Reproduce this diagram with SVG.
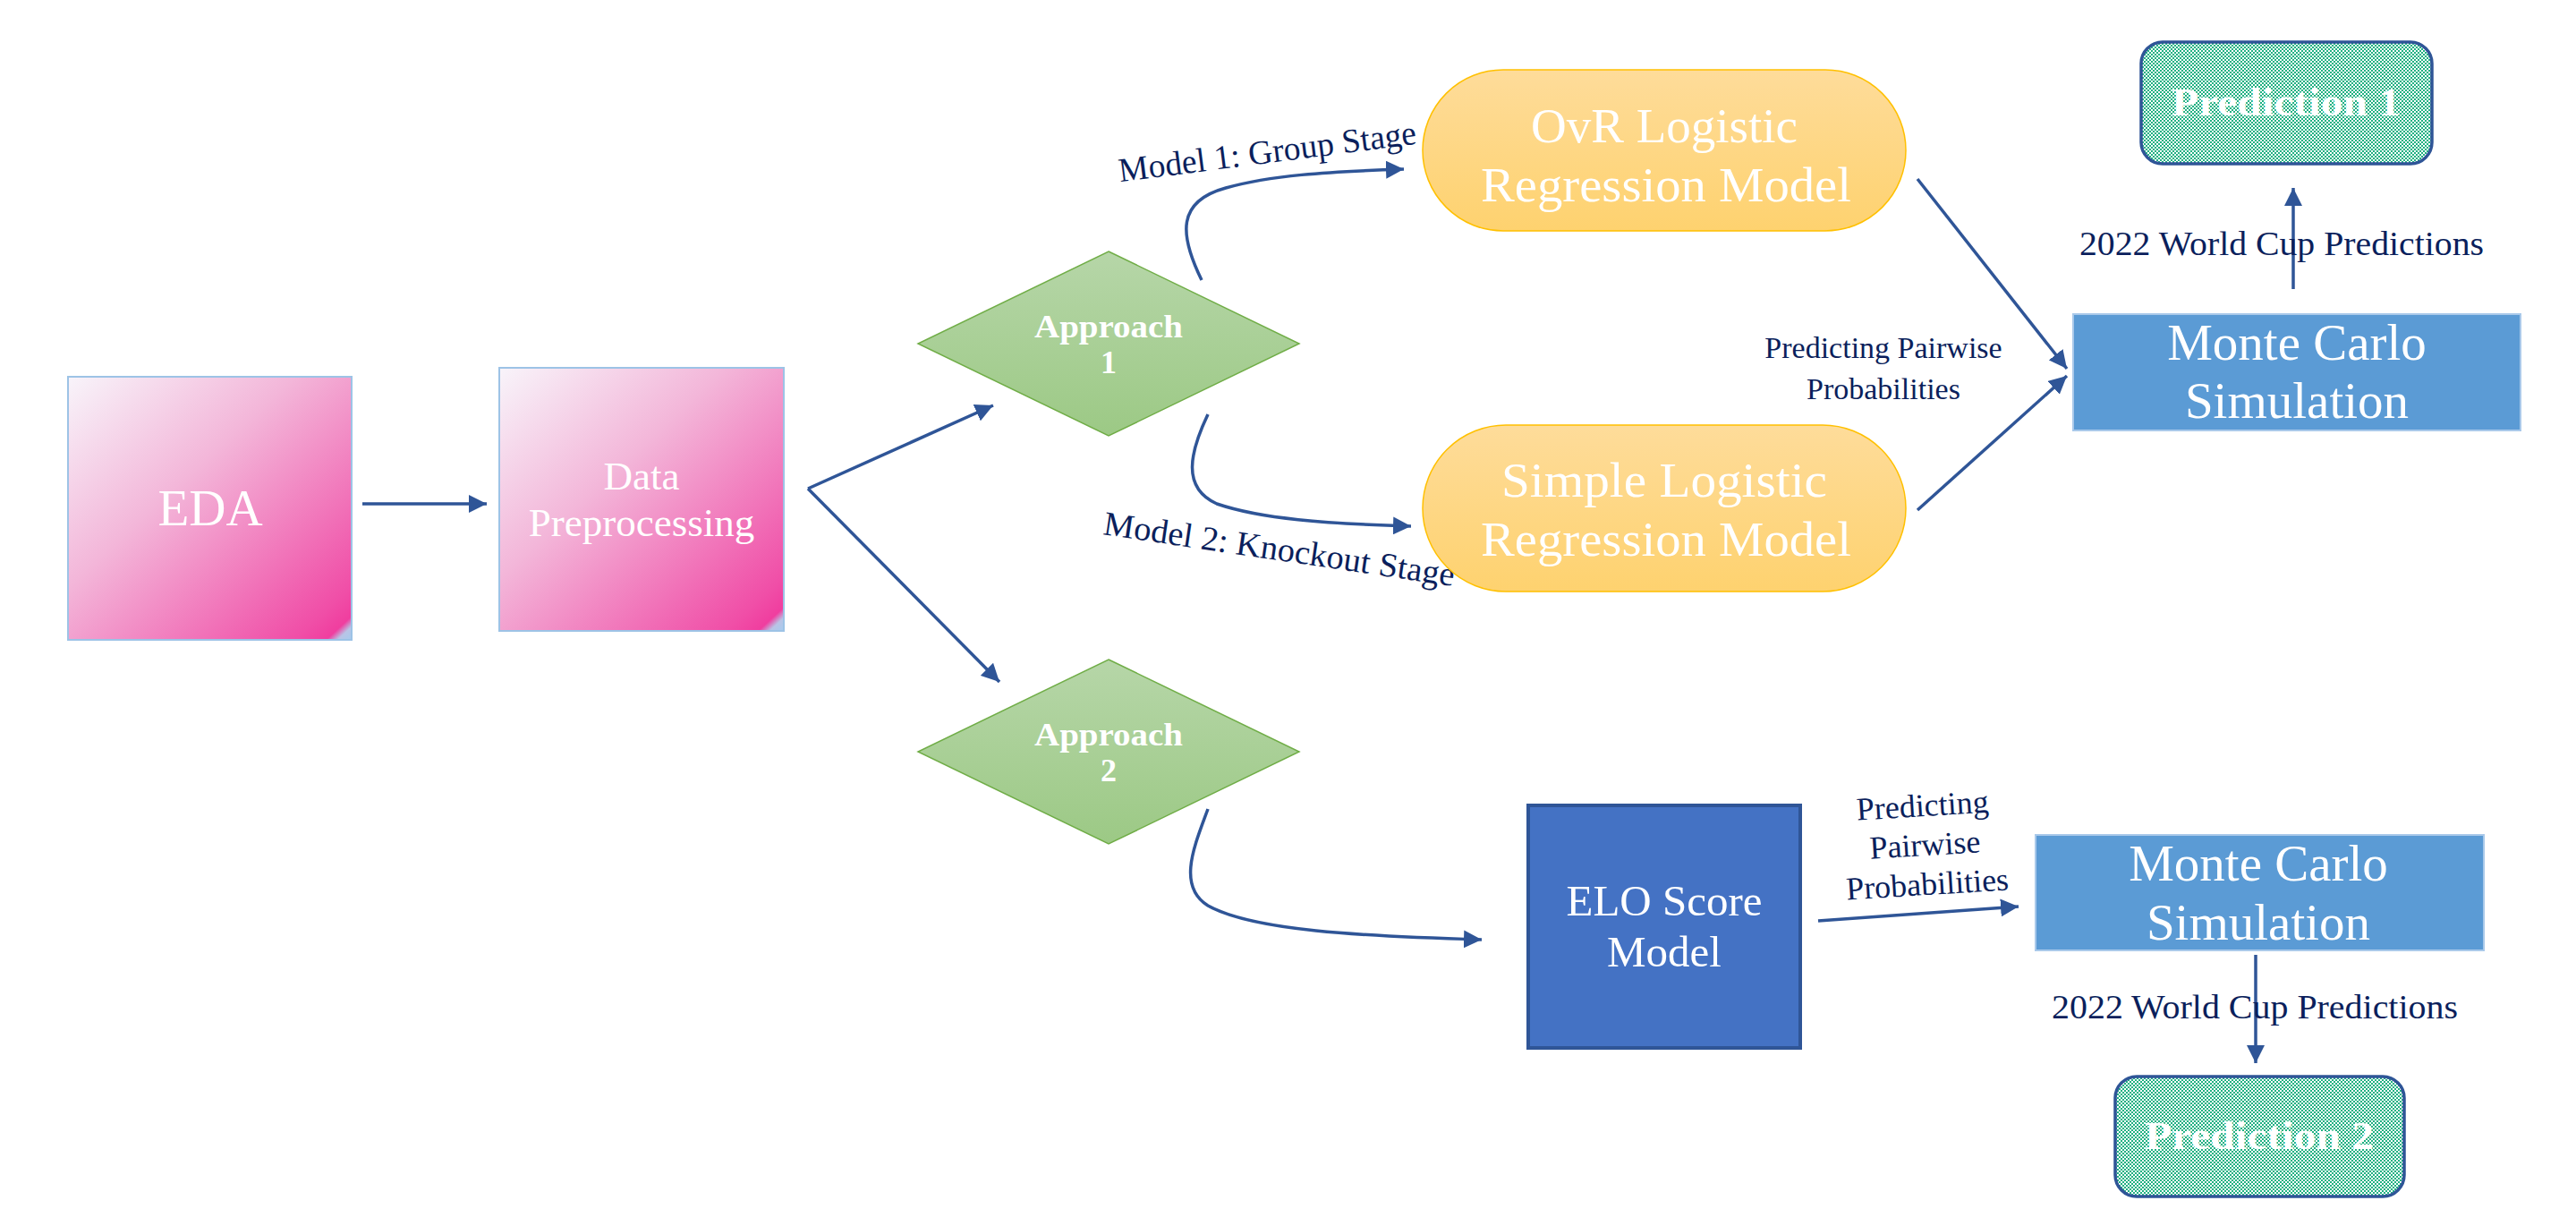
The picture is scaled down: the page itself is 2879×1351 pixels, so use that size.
<svg xmlns="http://www.w3.org/2000/svg" width="2879" height="1351" viewBox="0 0 2879 1351">
<style>
.node-text{font-family:"Liberation Serif","Times New Roman",serif;fill:#ffffff;text-anchor:middle}
.bold{font-weight:bold}
.label{font-family:"Liberation Serif","Times New Roman",serif;fill:#0b1f5c;text-anchor:middle}
.conn{fill:none;stroke:#2f5597;stroke-width:3.5}
.pink{fill:url(#pinkGrad);stroke:#9dc3e6;stroke-width:2}
.diamond{fill:url(#greenGrad);stroke:#70ad47;stroke-width:1.5}
.pill{fill:url(#yellowGrad);stroke:#ffc000;stroke-width:1.5}
.mc{fill:#5b9bd5;stroke:#a9c9ea;stroke-width:2}
.pred{fill:url(#checker);stroke:#2f5597;stroke-width:3.5}
</style>
<defs>
<linearGradient id="pinkGrad" x1="0" y1="0" x2="1" y2="1">
<stop offset="0" stop-color="#f8f4fa"/>
<stop offset="0.4" stop-color="#f3b6d9"/>
<stop offset="0.9" stop-color="#f04ea7"/>
<stop offset="0.955" stop-color="#f03e9f"/>
<stop offset="0.975" stop-color="#b9c4e6"/>
<stop offset="1" stop-color="#a6cbee"/>
</linearGradient>
<linearGradient id="greenGrad" x1="0" y1="0" x2="0" y2="1">
<stop offset="0" stop-color="#b6d6a8"/>
<stop offset="1" stop-color="#9cc985"/>
</linearGradient>
<linearGradient id="yellowGrad" x1="0" y1="0" x2="0" y2="1">
<stop offset="0" stop-color="#fedc9a"/>
<stop offset="1" stop-color="#fed26f"/>
</linearGradient>
<pattern id="checker" patternUnits="userSpaceOnUse" width="4" height="4">
<rect width="4" height="4" fill="#ffffff"/>
<rect width="2" height="2" fill="#1fb081"/>
<rect x="2" y="2" width="2" height="2" fill="#1fb081"/>
</pattern>
<marker id="arrow" markerUnits="userSpaceOnUse" markerWidth="22" markerHeight="20" refX="20" refY="10" orient="auto">
<path d="M0,0 L20,10 L0,20 z" fill="#2f5597"/>
</marker>
</defs>
<rect width="2879" height="1351" fill="#ffffff"/>

<g id="connectors">
<path class="conn" d="M405,563 L544,563" marker-end="url(#arrow)"/>
<path class="conn" d="M903,546 L1110,453" marker-end="url(#arrow)"/>
<path class="conn" d="M903,546 L1117,762" marker-end="url(#arrow)"/>
<path class="conn" d="M1343,313 C1318,262 1315,225 1370,210 C1420,196 1480,192 1569,189" marker-end="url(#arrow)"/>
<path class="conn" d="M1350,463 C1330,505 1320,545 1360,563 C1410,580 1480,585 1577,588" marker-end="url(#arrow)"/>
<path class="conn" d="M2143,200 L2310,412" marker-end="url(#arrow)"/>
<path class="conn" d="M2143,570 L2310,420" marker-end="url(#arrow)"/>
<path class="conn" d="M2563,323 L2563,210" marker-end="url(#arrow)"/>
<path class="conn" d="M1350,904 C1335,945 1315,990 1350,1012 C1400,1040 1520,1046 1656,1050" marker-end="url(#arrow)"/>
<path class="conn" d="M2032,1029 L2256,1013" marker-end="url(#arrow)"/>
<path class="conn" d="M2521,1067 L2521,1188" marker-end="url(#arrow)"/>
</g>

<g id="labels">
<text class="label" x="1418" y="182" font-size="38" textLength="335" lengthAdjust="spacingAndGlyphs" transform="rotate(-7.3 1418 182)">Model 1: Group Stage</text>
<text class="label" x="1428" y="626" font-size="38" textLength="396" lengthAdjust="spacingAndGlyphs" transform="rotate(8.4 1428 626)">Model 2: Knockout Stage</text>
<text class="label" x="2105" y="400" font-size="34">Predicting Pairwise</text>
<text class="label" x="2105" y="446" font-size="34">Probabilities</text>
<text class="label" x="2550" y="285" font-size="38" textLength="452" lengthAdjust="spacingAndGlyphs">2022 World Cup Predictions</text>
<text class="label" x="2520" y="1138" font-size="38" textLength="454" lengthAdjust="spacingAndGlyphs">2022 World Cup Predictions</text>
<g transform="rotate(-3.5 2152 955)">
<text class="label" x="2152" y="912" font-size="36">Predicting</text>
<text class="label" x="2152" y="956" font-size="36">Pairwise</text>
<text class="label" x="2152" y="1000" font-size="36">Probabilities</text>
</g>
</g>

<g id="eda">
<rect class="pink" x="76" y="421" width="317" height="294"/>
<text class="node-text" x="235" y="587" font-size="57">EDA</text>
</g>

<g id="data-preprocessing">
<rect class="pink" x="558" y="411" width="318" height="294"/>
<text class="node-text" x="717" y="547" font-size="45">Data</text>
<text class="node-text" x="717" y="599" font-size="45">Preprocessing</text>
</g>

<g id="approach-1">
<polygon class="diamond" points="1239,281 1452,384 1239,487 1026,384"/>
<text class="node-text bold" x="1239" y="377" font-size="36" textLength="166" lengthAdjust="spacingAndGlyphs">Approach</text>
<text class="node-text bold" x="1239" y="417" font-size="36">1</text>
</g>

<g id="approach-2">
<polygon class="diamond" points="1239,737 1452,840 1239,943 1026,840"/>
<text class="node-text bold" x="1239" y="833" font-size="36" textLength="166" lengthAdjust="spacingAndGlyphs">Approach</text>
<text class="node-text bold" x="1239" y="873" font-size="36">2</text>
</g>

<g id="ovr-model">
<rect class="pill" x="1590" y="78" width="540" height="180" rx="90" ry="90"/>
<text class="node-text" x="1860" y="159" font-size="55">OvR Logistic</text>
<text class="node-text" x="1862" y="225" font-size="55" textLength="414" lengthAdjust="spacingAndGlyphs">Regression Model</text>
</g>

<g id="simple-model">
<rect class="pill" x="1590" y="475" width="540" height="186" rx="93" ry="93"/>
<text class="node-text" x="1860" y="555" font-size="55" textLength="364" lengthAdjust="spacingAndGlyphs">Simple Logistic</text>
<text class="node-text" x="1862" y="621" font-size="55" textLength="414" lengthAdjust="spacingAndGlyphs">Regression Model</text>
</g>

<g id="monte-carlo-1">
<rect class="mc" x="2317" y="351" width="500" height="130"/>
<text class="node-text" x="2567" y="402" font-size="57">Monte Carlo</text>
<text class="node-text" x="2567" y="467" font-size="57">Simulation</text>
</g>

<g id="prediction-1">
<rect class="pred" x="2393" y="47" width="325" height="136" rx="24" ry="24"/>
<text class="node-text bold" x="2555" y="129" font-size="44" textLength="256" lengthAdjust="spacingAndGlyphs">Prediction 1</text>
</g>

<g id="elo-model">
<rect x="1708" y="900" width="304" height="271" fill="#4472c4" stroke="#2f5597" stroke-width="4"/>
<text class="node-text" x="1860" y="1023" font-size="49">ELO Score</text>
<text class="node-text" x="1860" y="1080" font-size="49">Model</text>
</g>

<g id="monte-carlo-2">
<rect class="mc" x="2275" y="933" width="501" height="129"/>
<text class="node-text" x="2524" y="984" font-size="57">Monte Carlo</text>
<text class="node-text" x="2524" y="1050" font-size="57">Simulation</text>
</g>

<g id="prediction-2">
<rect class="pred" x="2364" y="1203" width="323" height="134" rx="24" ry="24"/>
<text class="node-text bold" x="2525" y="1284" font-size="44" textLength="256" lengthAdjust="spacingAndGlyphs">Prediction 2</text>
</g>
</svg>
